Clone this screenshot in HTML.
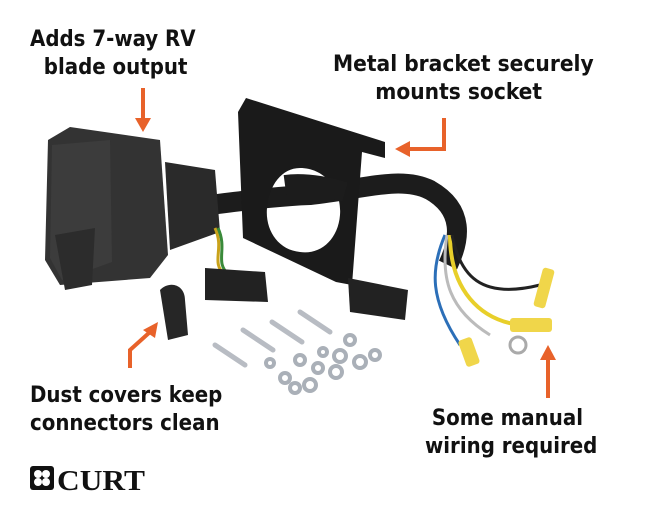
<!DOCTYPE html>
<html><head><meta charset="utf-8"><style>
html,body{margin:0;padding:0;background:#fff;}
.wrap{position:relative;width:654px;height:507px;overflow:hidden;font-family:"DejaVu Sans Condensed","Liberation Sans",sans-serif;}
.t{position:absolute;font-weight:bold;color:#111;font-size:22px;line-height:28px;white-space:nowrap;}
svg{position:absolute;left:0;top:0;}
</style></head><body><div class="wrap">
<svg width="654" height="507" viewBox="0 0 654 507">
 <g stroke="#e8622a" stroke-width="4" fill="#e8622a">
  <line x1="143" y1="88" x2="143" y2="120"/><polygon points="135,118 151,118 143,132" stroke="none"/>
  <polyline points="444,118 444,149 408,149" fill="none"/><polygon points="410,141 410,157 395,149" stroke="none"/>
  <polyline points="130,368 130,350 150,332" fill="none"/><polygon points="143,330 158,322 155,338" stroke="none"/>
  <line x1="548" y1="398" x2="548" y2="358"/><polygon points="540,360 556,360 548,345" stroke="none"/>
 </g>
 <!-- cable behind -->
 <path d="M210,205 C250,200 280,196 310,195 C360,190 400,175 430,190 C465,210 460,240 448,265" fill="none" stroke="#1c1c1c" stroke-width="20"/>
 <!-- bracket -->
 <path d="M238,112 L246,98 L385,142 L385,158 L362,152 L352,285 L336,282 L243,238 Z M300,168 C325,168 342,190 340,215 C338,240 320,255 300,252 C278,250 265,230 267,208 C269,185 282,168 300,168 Z" fill="#1a1a1a" fill-rule="evenodd"/>
 <path d="M285,185 C300,183 318,184 345,192" fill="none" stroke="#1c1c1c" stroke-width="20"/>
 <!-- socket -->
 <path d="M165,162 L215,170 L220,232 L170,250 Z" fill="#2a2a2a"/>
 <polygon points="48,140 70,127 160,140 168,255 150,278 60,285 45,260" fill="#333"/>
 <polygon points="52,145 110,140 112,262 62,280 50,258" fill="#3c3c3c"/>
 <polygon points="55,235 95,228 92,285 65,290" fill="#2c2c2c"/>
 <g fill="none" stroke-width="3">
  <path d="M215,228 C225,250 210,262 225,275" stroke="#c9a21a"/>
  <path d="M218,228 C228,250 214,262 229,275" stroke="#3a8a3a"/>
  <path d="M445,235 C430,270 430,300 460,345" stroke="#2c6fb8"/>
  <path d="M447,235 C440,280 450,310 490,335" stroke="#bbb"/>
  <path d="M450,235 C450,290 480,320 520,325" stroke="#e8cf2a" stroke-width="4"/>
  <path d="M452,235 C460,275 480,300 540,285" stroke="#222"/>
 </g>
 <rect x="510" y="318" width="42" height="14" fill="#f0d64a" rx="3"/>
 <rect x="538" y="268" width="12" height="40" fill="#f0d64a" rx="3" transform="rotate(15 544 288)"/>
 <rect x="462" y="338" width="14" height="28" fill="#f0d64a" rx="3" transform="rotate(-20 469 352)"/>
 <circle cx="518" cy="345" r="8" fill="none" stroke="#aaa" stroke-width="3"/>
 <polygon points="205,268 265,272 268,302 205,300" fill="#222"/>
 <path d="M160,290 C170,280 185,285 185,300 L188,335 L168,340 Z" fill="#262626"/>
 <polygon points="348,278 408,290 405,320 350,312" fill="#222"/>
 <g stroke="#b8bcc3" stroke-width="5" stroke-linecap="round">
  <line x1="215" y1="345" x2="245" y2="365"/><line x1="243" y1="330" x2="273" y2="350"/>
  <line x1="272" y1="322" x2="302" y2="342"/><line x1="300" y1="312" x2="330" y2="332"/>
 </g>
 <g fill="none" stroke="#aab0b8" stroke-width="4">
  <circle cx="285" cy="378" r="5"/><circle cx="310" cy="385" r="6"/><circle cx="336" cy="372" r="6"/>
  <circle cx="360" cy="362" r="6"/><circle cx="375" cy="355" r="5"/><circle cx="350" cy="340" r="5"/>
  <circle cx="323" cy="352" r="4"/><circle cx="300" cy="360" r="5"/><circle cx="270" cy="363" r="4"/>
  <circle cx="340" cy="356" r="6"/><circle cx="318" cy="368" r="5"/><circle cx="295" cy="388" r="5"/>
 </g>
 <g fill="#111"><rect x="30" y="466" width="24" height="24" rx="3"/></g>
 <g fill="#fff"><circle cx="38" cy="474" r="4"/><circle cx="46" cy="474" r="4"/><circle cx="38" cy="482" r="4"/><circle cx="46" cy="482" r="4"/></g>
 <text x="57" y="490" font-family="Liberation Serif,serif" font-weight="bold" font-size="28" fill="#111" textLength="88" lengthAdjust="spacingAndGlyphs">CURT</text>
</svg>
<div class="t" style="left:30px;top:26px;">Adds 7-way RV<br>&nbsp;&nbsp;blade output</div>
<div class="t" style="left:333px;top:50px;font-size:22.5px;">Metal bracket securely<br>&nbsp;&nbsp;&nbsp;&nbsp;&nbsp;&nbsp;mounts socket</div>
<div class="t" style="left:30px;top:382px;">Dust covers keep<br>connectors clean</div>
<div class="t" style="left:425px;top:405px;">&nbsp;Some manual<br>wiring required</div>
</div></body></html>
